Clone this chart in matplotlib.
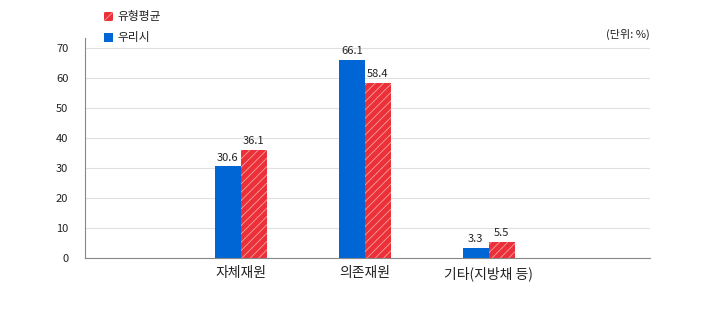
import matplotlib
matplotlib.use("Agg")
import matplotlib.pyplot as plt
import numpy as np
from matplotlib.patches import Rectangle

plt.rcParams['font.family'] = ['Noto Sans CJK KR', 'DejaVu Sans']
plt.rcParams['hatch.color'] = '#f7a0a3'
plt.rcParams['hatch.linewidth'] = 0.6

categories = ['자체재원', '의존재원', '기타(지방채 등)']
ours = [30.6, 66.1, 3.3]
avg = [36.1, 58.4, 5.5]
series_names = ['유형평균', '우리시']
yticks = [0, 10, 20, 30, 40, 50, 60, 70]

blue = '#0066d6'
red = '#eb3038'

fig = plt.figure(figsize=(7.01, 3.16), dpi=100)
top_px = 38
ax = fig.add_axes([85/701, 1-258/316, (650-85)/701, (258-top_px)/316])

x = np.arange(len(categories))
w = 0.21
b1 = ax.bar(x - w/2, ours, w, color=blue, edgecolor=blue, linewidth=0)
b2 = ax.bar(x + w/2, avg, w, color=red, edgecolor='#f7a0a3', hatch='////', linewidth=0)

for rect, v in zip(b1, ours):
    ax.text(rect.get_x() + rect.get_width()/2, v + 1.2, f'{v}', ha='center', va='bottom', fontsize=8, color='#222222')
for rect, v in zip(b2, avg):
    ax.text(rect.get_x() + rect.get_width()/2, v + 1.2, f'{v}', ha='center', va='bottom', fontsize=8, color='#222222')

ax.set_xlim(-1.258, 3.3)
ax.set_ylim(0, 70 * (258 - top_px) / 210)
ax.set_yticks(yticks)
ax.set_xticks(x)
ax.set_xticklabels(categories, fontsize=10, color='#222222')
ax.tick_params(axis='y', labelsize=8, length=0, pad=12, colors='#222222')
ax.tick_params(axis='x', length=0, pad=6)
ax.grid(axis='y', color='#e0e0e0', linewidth=0.8)
ax.set_axisbelow(True)
for s in ['top', 'right']:
    ax.spines[s].set_visible(False)
for s in ['bottom', 'left']:
    ax.spines[s].set_color('#888888')
    ax.spines[s].set_linewidth(0.8)

# legend
fig.patches.append(Rectangle((104/701, 1-21/316), 9/701, 9/316, transform=fig.transFigure,
                             facecolor=red, edgecolor='#f7a0a3', hatch='////', linewidth=0))
fig.text(117/701, 1-16.5/316, series_names[0], fontsize=8.5, va='center', ha='left', color='#222222')
fig.patches.append(Rectangle((104/701, 1-42/316), 9/701, 9/316, transform=fig.transFigure,
                             facecolor=blue, edgecolor=blue, linewidth=0))
fig.text(117/701, 1-37.5/316, series_names[1], fontsize=8.5, va='center', ha='left', color='#222222')

fig.text(650/701, 1-34/316, '(단위: %)', fontsize=8, ha='right', va='center', color='#222222')

fig.savefig('out.png', dpi=100)
